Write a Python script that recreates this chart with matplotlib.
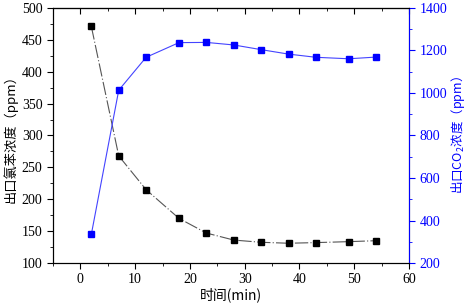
import matplotlib
matplotlib.use("Agg")
import matplotlib.pyplot as plt
from matplotlib.ticker import MultipleLocator

plt.rcParams['font.family'] = ['Liberation Serif', 'Noto Sans CJK SC']
plt.rcParams['mathtext.fontset'] = 'custom'
plt.rcParams['mathtext.rm'] = 'Noto Sans CJK SC'

# 数据
time_min = [2, 7, 12, 18, 23, 28, 33, 38, 43, 49, 54]
chlorobenzene = [471, 268, 215, 170, 147, 136, 132.5, 131, 132, 133.5, 135]
co2 = [335, 1013, 1168, 1237, 1238, 1226, 1204, 1183, 1168, 1161, 1169]

blue = '#0000ff'
line_blue = '#4444ff'
cjk = ['Noto Sans CJK SC', 'DejaVu Sans']

fig = plt.figure(figsize=(4.67, 3.07), dpi=100)
ax = fig.add_axes([0.1135, 0.1433, 0.7623, 0.8307])

ax.plot(time_min, chlorobenzene, color='#555555', lw=0.8,
        linestyle=(0, (12, 2, 1, 2)), marker='s', ms=4.5,
        markerfacecolor='black', markeredgecolor='black', zorder=3)
ax.set_xlim(-5, 60)
ax.set_ylim(100, 500)
ax.xaxis.set_major_locator(MultipleLocator(10))
ax.xaxis.set_minor_locator(MultipleLocator(5))
ax.yaxis.set_major_locator(MultipleLocator(50))
ax.yaxis.set_minor_locator(MultipleLocator(25))
ax.tick_params(axis='both', which='both', direction='out', labelsize=10)
ax.tick_params(which='major', length=4)
ax.tick_params(which='minor', length=2.5)
ax.set_xlabel('时间(min)', family=cjk, fontsize=10, labelpad=1)
ax.set_ylabel('出口氯苯浓度（ppm）', family=cjk, fontsize=9.5, labelpad=3)

top = ax.secondary_xaxis('top')
top.xaxis.set_major_locator(MultipleLocator(10))
top.xaxis.set_minor_locator(MultipleLocator(5))
top.tick_params(which='both', direction='in', labeltop=False)
top.tick_params(which='major', length=4)
top.tick_params(which='minor', length=2.5)

ax2 = ax.twinx()
ax2.plot(time_min, co2, color=line_blue, lw=0.8, marker='s', ms=4.5,
         markerfacecolor=blue, markeredgecolor=blue, zorder=3)
ax2.set_ylim(200, 1400)
ax2.yaxis.set_major_locator(MultipleLocator(200))
ax2.yaxis.set_minor_locator(MultipleLocator(100))
ax2.tick_params(axis='y', which='both', direction='out', colors=blue, labelsize=10)
ax2.tick_params(which='major', length=4)
ax2.tick_params(which='minor', length=2.5)
ax2.spines['right'].set_color(blue)
ax2.set_ylabel('出口CO$_2$浓度（ppm）', family=cjk, fontsize=9,
               color=blue, rotation=90, labelpad=1)

fig.savefig('out.png', dpi=100)
